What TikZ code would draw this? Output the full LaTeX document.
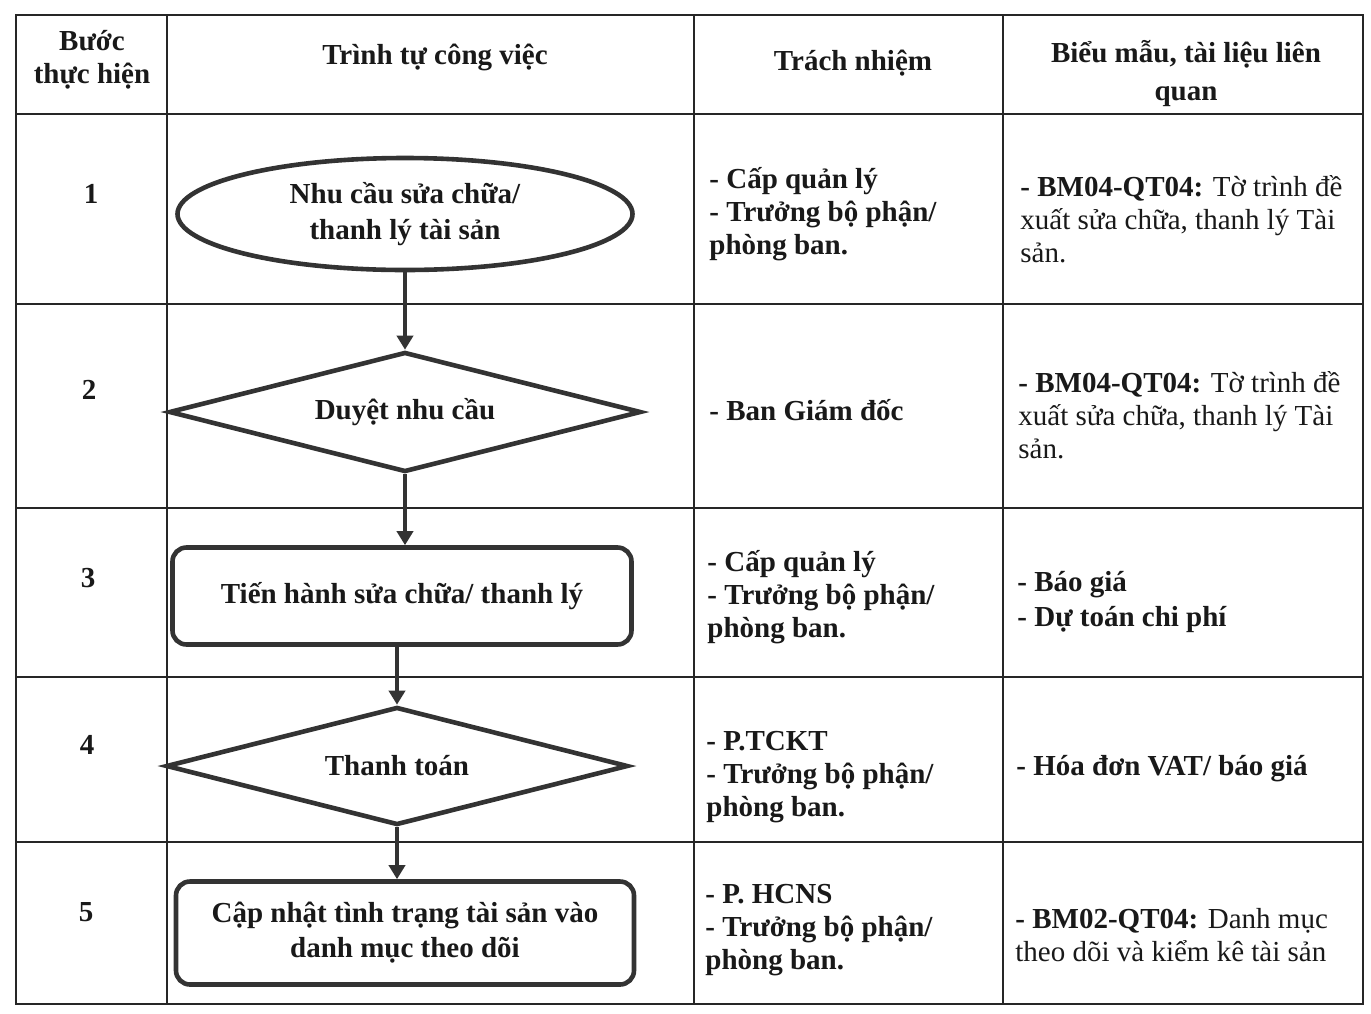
\documentclass[tikz,border=0pt]{standalone}
\usepackage{fontspec}
\setmainfont{Liberation Serif}
\usetikzlibrary{shapes.geometric,arrows.meta}
\begin{document}
\begin{tikzpicture}[x=0.5pt,y=-0.5pt,
 grid/.style={line width=1pt, draw=black!85},
 shapeline/.style={draw=black!80, line width=2.3pt, text=black!90, font=\bfseries\fontsize{14.5}{18}\selectfont, align=center, inner sep=0pt},
 ovalbox/.style={shapeline, ellipse},
 decbox/.style={shapeline, diamond, aspect=3.9},
 procbox/.style={shapeline, rectangle, rounded corners=7pt},
 flow/.style={draw=black!80, line width=2.4pt, -{Triangle[length=7pt,width=8pt]}},
 cell/.style={font=\fontsize{14.5}{16.5}\selectfont, text=black!90, align=left, inner sep=0pt, anchor=west},
 hdr/.style={font=\bfseries\fontsize{14.5}{16.5}\selectfont, text=black!90, align=center, inner sep=0pt},
 num/.style={font=\bfseries\fontsize{14.5}{16.5}\selectfont, text=black!90, inner sep=0pt},
]
\useasboundingbox (0,0) rectangle (1371,1013);
\fill[white] (0,0) rectangle (1371,1013);

% table grid
\draw[grid] (16,15) rectangle (1363,1004);
\foreach \xx in {167,694,1003} \draw[grid] (\xx,15) -- (\xx,1004);
\foreach \yy in {114,304,508,677,842} \draw[grid] (16,\yy) -- (1363,\yy);

% headers
\node[hdr] (h1) at (92,60) {Bước\\thực hiện};
\node[hdr] (h2) at (435,57) {Trình tự công việc};
\node[hdr] (h3) at (853,63) {Trách nhiệm};
\node[hdr, font=\bfseries\fontsize{14.5}{19}\selectfont] (h4) at (1186,74) {Biểu mẫu, tài liệu liên\\quan};

% step numbers
\node[num] (n1) at (91,194) {1};
\node[num] (n2) at (89,390) {2};
\node[num] (n3) at (88,578) {3};
\node[num] (n4) at (87,745) {4};
\node[num] (n5) at (86,912) {5};

% flowchart
\node[ovalbox, minimum width=227.5pt, minimum height=56pt] (e1) at (405,214) {Nhu cầu sửa chữa/\\thanh lý tài sản};
\node[decbox, minimum width=236pt, minimum height=60pt] (d2) at (405,412) {Duyệt nhu cầu};
\node[procbox, minimum width=229.5pt, minimum height=48.5pt] (r3) at (402,596) {Tiến hành sửa chữa/ thanh lý};
\node[decbox, minimum width=231pt, minimum height=59pt] (d4) at (397,766) {Thanh toán};
\node[procbox, minimum width=229pt, minimum height=51.5pt, font=\bfseries\fontsize{14.5}{17.5}\selectfont] (r5) at (405,933) {Cập nhật tình trạng tài sản vào\\danh mục theo dõi};

\draw[flow] (e1.south) -- (d2.north);
\draw[flow] (d2.south) -- (d2.south |- r3.north);
\draw[flow] (d4.north |- r3.south) -- (d4.north);
\draw[flow] (d4.south) -- (d4.south |- r5.north);

% responsibility column
\node[cell, font=\bfseries\fontsize{14.5}{16.5}\selectfont] (t1) at (709,214) {- Cấp quản lý\\- Trưởng bộ phận/\\phòng ban.};
\node[cell, font=\bfseries\fontsize{14.5}{16.5}\selectfont] (t2) at (709,410) {- Ban Giám đốc};
\node[cell, font=\bfseries\fontsize{14.5}{16.5}\selectfont] (t3) at (707,597) {- Cấp quản lý\\- Trưởng bộ phận/\\phòng ban.};
\node[cell, font=\bfseries\fontsize{14.5}{16.5}\selectfont] (t4) at (706,777) {- P.TCKT\\- Trưởng bộ phận/\\phòng ban.};
\node[cell, font=\bfseries\fontsize{14.5}{16.5}\selectfont] (t5) at (705,930) {- P. HCNS\\- Trưởng bộ phận/\\phòng ban.};

% forms column
\node[cell] (f1) at (1020,219) {\textbf{- BM04-QT04:} Tờ trình đề\\xuất sửa chữa, thanh lý Tài\\sản.};
\node[cell] (f2) at (1018,415) {\textbf{- BM04-QT04:} Tờ trình đề\\xuất sửa chữa, thanh lý Tài\\sản.};
\node[cell, font=\bfseries\fontsize{14.5}{17.5}\selectfont] (f3) at (1017,602) {- Báo giá\\- Dự toán chi phí};
\node[cell, font=\bfseries\fontsize{14.5}{16.5}\selectfont] (f4) at (1016,769) {- Hóa đơn VAT/ báo giá};
\node[cell] (f5) at (1015,935) {\textbf{- BM02-QT04:} Danh mục\\theo dõi và kiểm kê tài sản};
\end{tikzpicture}
\end{document}
